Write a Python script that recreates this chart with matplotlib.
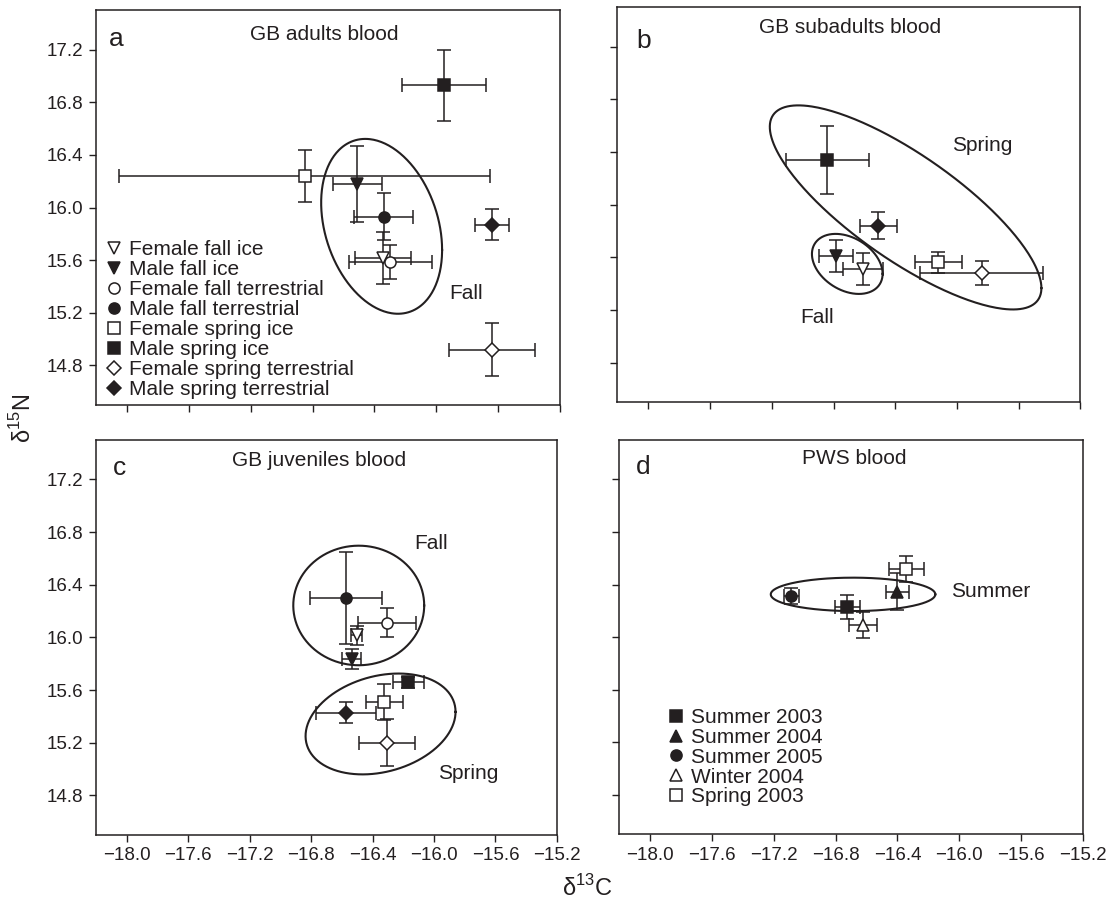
import numpy as np
import matplotlib
matplotlib.use('Agg')
import matplotlib.pyplot as plt
from matplotlib.lines import Line2D

plt.rcParams['font.family'] = ['Liberation Sans', 'DejaVu Sans']
plt.rcParams['mathtext.fontset'] = 'custom'
plt.rcParams['mathtext.rm'] = 'Liberation Sans'

INK = '#231f20'

# groups shared by panels a-c
groups = ["Female fall ice", "Male fall ice", "Female fall terrestrial",
          "Male fall terrestrial", "Female spring ice", "Male spring ice",
          "Female spring terrestrial", "Male spring terrestrial"]
group_markers = ['v', 'v', 'o', 'o', 's', 's', 'D', 'D']
group_filled = [False, True, False, True, False, True, False, True]

# panel a: GB adults
a_c13 = [-16.345, -16.51, -16.296, -16.34, -16.85, -15.95, -15.64, -15.64]
a_n15 = [15.616, 16.18, 15.586, 15.93, 16.24, 16.93, 14.92, 15.87]
a_c13_sd = [0.18, 0.16, 0.27, 0.19, 1.20, 0.27, 0.28, 0.11]
a_n15_sd = [0.20, 0.29, 0.13, 0.18, 0.20, 0.27, 0.20, 0.12]

# panel b: GB subadults (no fall terrestrial)
b_c13 = [-16.61, -16.785, np.nan, np.nan, -16.12, -16.84, -15.84, -16.51]
b_n15 = [15.51, 15.61, np.nan, np.nan, 15.56, 16.34, 15.48, 15.84]
b_c13_sd = [0.13, 0.11, np.nan, np.nan, 0.15, 0.27, 0.40, 0.12]
b_n15_sd = [0.12, 0.12, np.nan, np.nan, 0.08, 0.26, 0.09, 0.10]

# panel c: GB juveniles
c_c13 = [-16.503, -16.535, -16.307, -16.572, -16.323, -16.167, -16.307, -16.572]
c_n15 = [16.015, 15.84, 16.11, 16.30, 15.51, 15.66, 15.20, 15.43]
c_c13_sd = [0.035, 0.063, 0.19, 0.232, 0.12, 0.10, 0.18, 0.195]
c_n15_sd = [0.07, 0.076, 0.11, 0.347, 0.14, 0.042, 0.177, 0.082]

# panel d: PWS
d_groups = ["Summer 2003", "Summer 2004", "Summer 2005", "Winter 2004", "Spring 2003"]
d_markers = ['s', '^', 'o', '^', 's']
d_filled = [True, True, True, False, False]
d_c13 = [-16.725, -16.40, -17.085, -16.622, -16.342]
d_n15 = [16.231, 16.345, 16.313, 16.092, 16.516]
d_c13_sd = [0.08, 0.074, 0.05, 0.092, 0.112]
d_n15_sd = [0.09, 0.14, 0.06, 0.10, 0.10]

# season ellipses: centre x, centre y, half-width x, half-height y, correlation
a_ellipses = [(-16.353, 15.857, 0.391, 0.664, -0.27)]
b_ellipses = [(-16.333, 15.978, 0.880, 0.775, -0.79), (-16.711, 15.549, 0.229, 0.228, -0.33)]
c_ellipses = [(-16.49, 16.243, 0.426, 0.454, 0.0), (-16.348, 15.343, 0.488, 0.383, 0.24)]
d_ellipses = [(-16.687, 16.325, 0.532, 0.127, 0.0)]

# season labels
a_notes = [("Fall", -15.81, 15.35)]
b_notes = [("Spring", -15.836, 16.45), ("Fall", -16.91, 15.14)]
c_notes = [("Fall", -16.02, 16.71), ("Spring", -15.78, 14.97)]
d_notes = [("Summer", -15.80, 16.345)]

x_ticks = np.arange(-18.0, -15.19, 0.4)
y_ticks = np.arange(14.8, 17.21, 0.4)


def draw_ellipse(ax, cx, cy, rx, ry, rho):
    t = np.linspace(0, 2 * np.pi, 300)
    xs = cx + rx * np.cos(t)
    ys = cy + ry * (rho * np.cos(t) + np.sqrt(1 - rho ** 2) * np.sin(t))
    ax.plot(xs, ys, color=INK, lw=1.5, zorder=1)


def draw_points(ax, xs, ys, xe, ye, markers, filled):
    for x, y, ex, ey, m, f in zip(xs, ys, xe, ye, markers, filled):
        if np.isnan(x):
            continue
        ms = 8.5 if m in ('v', '^') else (7.5 if m == 'D' else 8)
        ax.errorbar(x, y, xerr=ex, yerr=ey, fmt=m, color=INK, ecolor=INK,
                    elinewidth=1.1, capsize=5, capthick=1.1, ms=ms,
                    mfc=INK if f else 'white', mec=INK, mew=1.1, zorder=3)


def style_axes(ax, xlabels, ylabels):
    ax.set_xlim(-18.2, -15.2)
    ax.set_ylim(14.5, 17.5)
    ax.set_xticks(x_ticks)
    ax.set_yticks(y_ticks)
    ax.set_xticklabels([f"{v:.1f}".replace('-', '\u2212') for v in x_ticks] if xlabels else [])
    ax.set_yticklabels([f"{v:.1f}" for v in y_ticks] if ylabels else [])
    ax.tick_params(direction='out', length=5, width=1, color=INK,
                   labelsize=13.5, labelcolor=INK, pad=4)
    for s in ax.spines.values():
        s.set_linewidth(1.1)
        s.set_color(INK)


fig = plt.figure(figsize=(11.11, 9.01), dpi=100)
rects = {
    'a': [0.0864, 0.5505, 0.4176, 0.4384],
    'b': [0.5558, 0.5538, 0.4167, 0.4384],
    'c': [0.0864, 0.0733, 0.4149, 0.4384],
    'd': [0.5572, 0.0740, 0.4176, 0.4378],
}
titles = {'a': ("GB adults blood", 0.492, 0.937),
          'b': ("GB subadults blood", 0.503, 0.948),
          'c': ("GB juveniles blood", 0.483, 0.949),
          'd': ("PWS blood", 0.508, 0.952)}
letters = {'a': (0.043, 0.926), 'b': (0.056, 0.914), 'c': (0.051, 0.928), 'd': (0.052, 0.931)}

panels = {
    'a': (a_c13, a_n15, a_c13_sd, a_n15_sd, group_markers, group_filled, a_ellipses, a_notes),
    'b': (b_c13, b_n15, b_c13_sd, b_n15_sd, group_markers, group_filled, b_ellipses, b_notes),
    'c': (c_c13, c_n15, c_c13_sd, c_n15_sd, group_markers, group_filled, c_ellipses, c_notes),
    'd': (d_c13, d_n15, d_c13_sd, d_n15_sd, d_markers, d_filled, d_ellipses, d_notes),
}

axes = {}
for key, rect in rects.items():
    ax = fig.add_axes(rect)
    axes[key] = ax
    xs, ys, xe, ye, mk, fl, ells, notes = panels[key]
    for e in ells:
        draw_ellipse(ax, *e)
    draw_points(ax, xs, ys, xe, ye, mk, fl)
    for txt, tx, ty in notes:
        ax.text(tx, ty, txt, fontsize=15, color=INK, ha='center', va='center')
    t, tx, ty = titles[key]
    ax.text(tx, ty, t, transform=ax.transAxes, fontsize=15, color=INK, ha='center', va='center')
    lx, ly = letters[key]
    ax.text(lx, ly, key, transform=ax.transAxes, fontsize=19, color=INK, ha='center', va='center')
    style_axes(ax, key in ('c', 'd'), key in ('a', 'c'))


def legend_handles(markers, filled):
    hs = []
    for m, f in zip(markers, filled):
        ms = 8.5 if m in ('v', '^') else (7.5 if m == 'D' else 8)
        hs.append(Line2D([], [], ls='none', marker=m, ms=ms, color=INK,
                         mfc=INK if f else 'white', mec=INK, mew=1.1))
    return hs


axes['a'].legend(legend_handles(group_markers, group_filled), groups,
                 loc='upper left', bbox_to_anchor=(0.021, 0.418), frameon=False,
                 fontsize=15, handlelength=0.8, handletextpad=0.3,
                 labelspacing=0.05, borderpad=0, borderaxespad=0, labelcolor=INK)
axes['d'].legend(legend_handles(d_markers, d_filled), d_groups,
                 loc='upper left', bbox_to_anchor=(0.105, 0.32), frameon=False,
                 fontsize=15, handlelength=0.8, handletextpad=0.3,
                 labelspacing=0.04, borderpad=0, borderaxespad=0, labelcolor=INK)

fig.text(23 / 1111, 1 - 418 / 901, "δ$^{15}$N", rotation=90, fontsize=17,
         color=INK, ha='center', va='center')
fig.text(587 / 1111, 1 - 888 / 901, "δ$^{13}$C", fontsize=17,
         color=INK, ha='center', va='center')

fig.savefig('out.png', dpi=100, facecolor='white')
